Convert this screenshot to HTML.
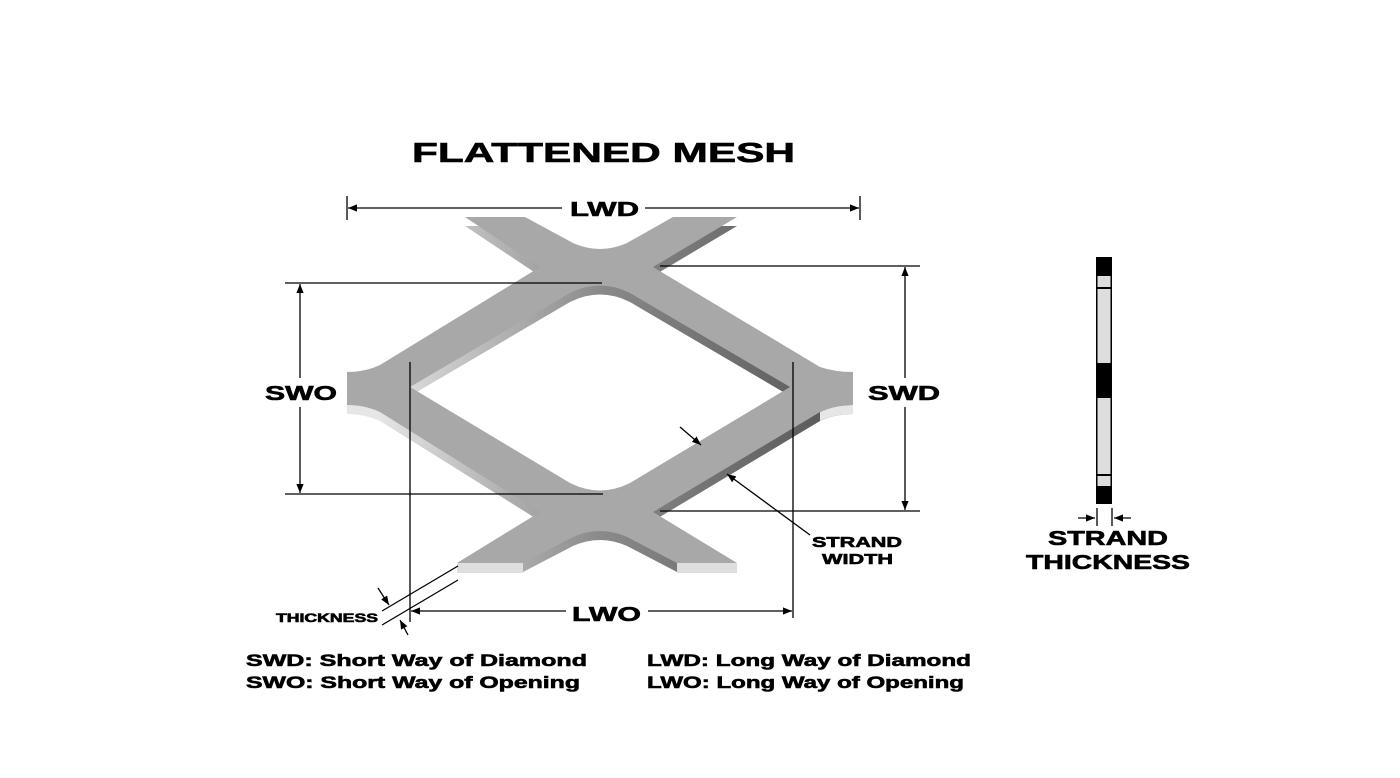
<!DOCTYPE html>
<html><head><meta charset="utf-8"><style>
html,body{margin:0;padding:0;background:#fff;}
svg{display:block;}
text{font-family:"Liberation Sans",Arial,sans-serif;font-weight:bold;fill:#000;stroke:#000;stroke-width:0.6;}
</style></head><body>
<svg width="1400" height="778" viewBox="0 0 1400 778" xmlns="http://www.w3.org/2000/svg">
<defs>
<linearGradient id="side" x1="0" y1="0" x2="1" y2="0">
<stop offset="0" stop-color="#f2f2f2"/><stop offset="0.5" stop-color="#8a8a8a"/><stop offset="1" stop-color="#555"/>
</linearGradient>
<marker id="ar" viewBox="0 0 10 10" refX="10" refY="5" markerWidth="9" markerHeight="9" orient="auto-start-reverse" markerUnits="userSpaceOnUse">
<path d="M0,1 L10,5 L0,9 Z" fill="#000"/></marker>
</defs>
<rect width="1400" height="778" fill="#fff"/>

<text x="412" y="162" font-size="28" textLength="383" lengthAdjust="spacingAndGlyphs" stroke-width="1">FLATTENED MESH</text>

<g id="mesh">
<path transform="translate(0,9)" fill="url(#side)" fill-rule="evenodd" d="M465,217 L525,217 L573,243 Q600,255 627,243 L673,217 L737,217 L653,267 L820,367 Q835,372 853,372 L853,405 Q835,405 820,412 L653,512 L737,563 L677,563 L627,537 Q600,525 573,537 L523,563 L457,563 L540,512 L380,412 Q365,405 347,405 L347,372 Q365,372 380,365 L540,267 Z
M410,387 L570,293 Q600,278 630,293 L790,387 L630,483 Q600,498 570,483 Z"/>
<rect x="457" y="563" width="66" height="10" fill="#dedede"/>
<rect x="677" y="563" width="60" height="10" fill="#dedede"/>
<path d="M347,405 Q365,405 380,412 L380,421 Q365,414 347,414 Z" fill="#e6e6e6"/>
<path d="M853,405 Q835,405 820,412 L820,421 Q835,414 853,414 Z" fill="#e6e6e6"/>
<path fill="#a8a8a8" fill-rule="evenodd" d="M465,217 L525,217 L573,243 Q600,255 627,243 L673,217 L737,217 L653,267 L820,367 Q835,372 853,372 L853,405 Q835,405 820,412 L653,512 L737,563 L677,563 L627,537 Q600,525 573,537 L523,563 L457,563 L540,512 L380,412 Q365,405 347,405 L347,372 Q365,372 380,365 L540,267 Z
M410,387 L570,293 Q600,278 630,293 L790,387 L630,483 Q600,498 570,483 Z"/>
</g>

<g stroke="#000" stroke-width="1.3" fill="none">
<line x1="347" y1="196" x2="347" y2="220"/>
<line x1="860" y1="196" x2="860" y2="220"/>
<line x1="348" y1="208" x2="562" y2="208" marker-start="url(#ar)"/>
<line x1="645" y1="208" x2="859" y2="208" marker-end="url(#ar)"/>
<line x1="660" y1="266" x2="920" y2="266"/>
<line x1="660" y1="511" x2="920" y2="511"/>
<line x1="905" y1="267" x2="905" y2="378" marker-start="url(#ar)"/>
<line x1="905" y1="407" x2="905" y2="510" marker-end="url(#ar)"/>
<line x1="285" y1="283" x2="602" y2="283"/>
<line x1="285" y1="494" x2="603" y2="494"/>
<line x1="300" y1="284" x2="300" y2="378" marker-start="url(#ar)"/>
<line x1="300" y1="407" x2="300" y2="493" marker-end="url(#ar)"/>
<line x1="410" y1="362" x2="410" y2="622"/>
<line x1="793" y1="362" x2="793" y2="618"/>
<line x1="411" y1="611" x2="566" y2="611" marker-start="url(#ar)"/>
<line x1="648" y1="611" x2="792" y2="611" marker-end="url(#ar)"/>
<line x1="382" y1="611" x2="458" y2="566"/>
<line x1="382" y1="625" x2="458" y2="580"/>
<line x1="378" y1="588" x2="389" y2="605" marker-end="url(#ar)"/>
<line x1="408" y1="635" x2="400" y2="620" marker-end="url(#ar)"/>
<line x1="680" y1="427" x2="701" y2="445" marker-end="url(#ar)"/>
<line x1="810" y1="535" x2="727" y2="474" marker-end="url(#ar)"/>
<line x1="1097" y1="508" x2="1097" y2="526"/>
<line x1="1112" y1="508" x2="1112" y2="526"/>
<line x1="1078" y1="518" x2="1095" y2="518" marker-end="url(#ar)"/>
<line x1="1131" y1="518" x2="1114" y2="518" marker-end="url(#ar)"/>
</g>

<g>
<rect x="1096" y="257" width="16" height="247" fill="#000"/>
<rect x="1097.5" y="276" width="13" height="11" fill="#ddd"/>
<rect x="1097.5" y="289" width="13" height="74" fill="#ddd"/>
<rect x="1097.5" y="398" width="13" height="76" fill="#ddd"/>
<rect x="1097.5" y="476" width="13" height="10" fill="#ddd"/>
</g>

<text x="570" y="216" font-size="20" textLength="69" lengthAdjust="spacingAndGlyphs">LWD</text>
<text x="868" y="400" font-size="20" textLength="72" lengthAdjust="spacingAndGlyphs">SWD</text>
<text x="265" y="400" font-size="20" textLength="72" lengthAdjust="spacingAndGlyphs">SWO</text>
<text x="572" y="621" font-size="20" textLength="69" lengthAdjust="spacingAndGlyphs">LWO</text>
<text x="276" y="622" font-size="12" textLength="102" lengthAdjust="spacingAndGlyphs" stroke-width="0.3">THICKNESS</text>
<text x="812" y="547" font-size="15" textLength="90" lengthAdjust="spacingAndGlyphs" stroke-width="0.4">STRAND</text>
<text x="822" y="564" font-size="15" textLength="71" lengthAdjust="spacingAndGlyphs" stroke-width="0.4">WIDTH</text>
<text x="1048" y="545" font-size="20" textLength="120" lengthAdjust="spacingAndGlyphs">STRAND</text>
<text x="1026" y="569" font-size="20" textLength="164" lengthAdjust="spacingAndGlyphs">THICKNESS</text>

<text x="246" y="666" font-size="17" textLength="341" lengthAdjust="spacingAndGlyphs" stroke-width="0.4">SWD: Short Way of Diamond</text>
<text x="246" y="688" font-size="17" textLength="334" lengthAdjust="spacingAndGlyphs" stroke-width="0.4">SWO: Short Way of Opening</text>
<text x="647" y="666" font-size="17" textLength="324" lengthAdjust="spacingAndGlyphs" stroke-width="0.4">LWD: Long Way of Diamond</text>
<text x="647" y="688" font-size="17" textLength="317" lengthAdjust="spacingAndGlyphs" stroke-width="0.4">LWO: Long Way of Opening</text>
</svg>
</body></html>
